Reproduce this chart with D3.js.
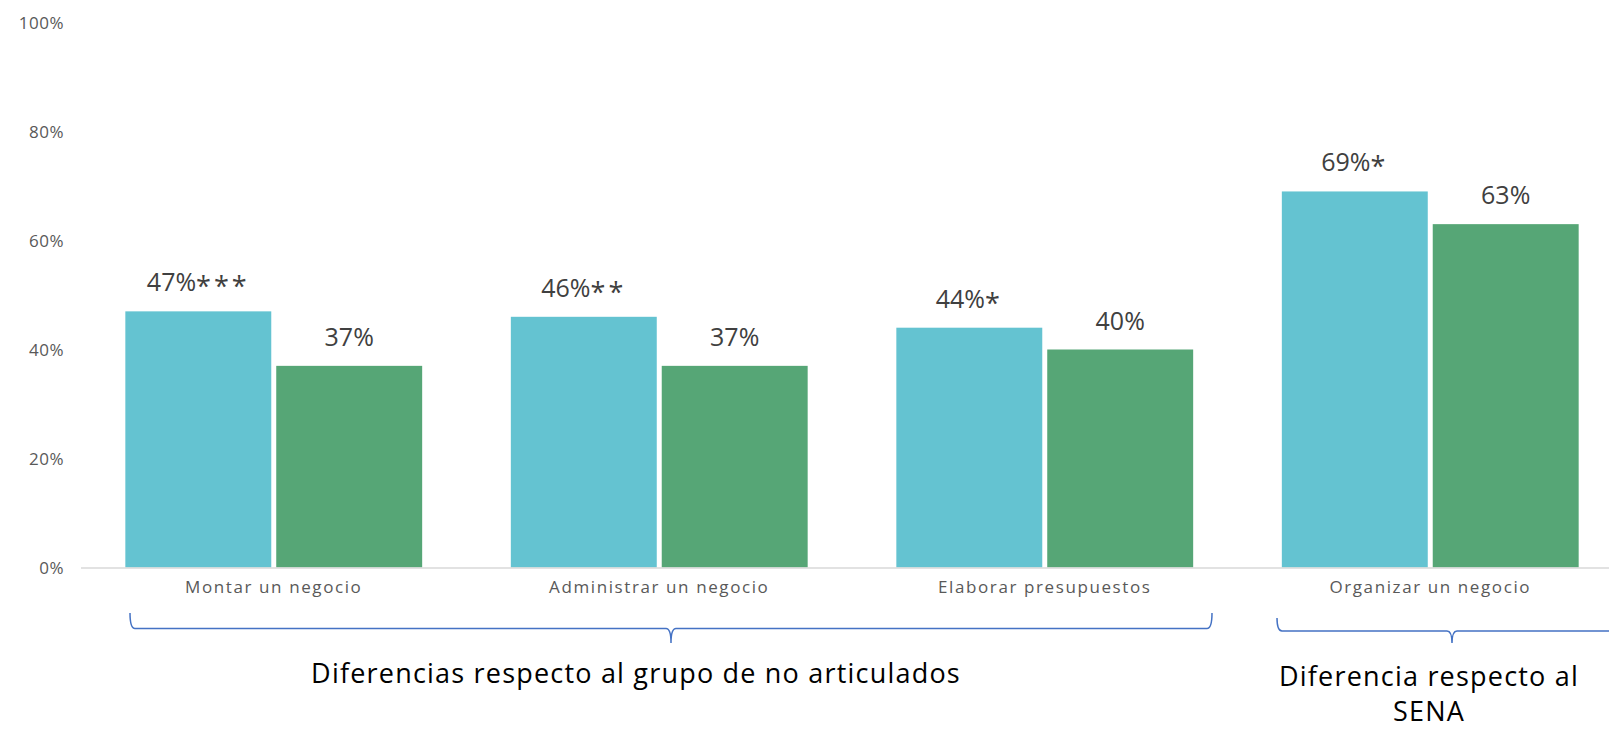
<!DOCTYPE html>
<html>
<head>
<meta charset="utf-8">
<script src="https://cdn.jsdelivr.net/npm/d3@7"></script>
<style>
  html, body { margin: 0; padding: 0; background: #fff; }
  svg { display: block; }
</style>
</head>
<body>
<svg id="chart" width="1609" height="729"></svg>
<script>
const categories = ["Montar un negocio", "Administrar un negocio", "Elaborar presupuestos", "Organizar un negocio"];
const seriesKeys = ["articulados", "comparacion"];
const seriesA = [0.47, 0.46, 0.44, 0.69];
const seriesB = [0.37, 0.37, 0.40, 0.63];
const labelsA = ["47%", "46%", "44%", "69%"];
const starsA = ["***", "**", "*", "*"];
const labelsB = ["37%", "37%", "40%", "63%"];
const yTicks = [0, 0.2, 0.4, 0.6, 0.8, 1.0];
const groupLabels = ["Diferencias respecto al grupo de no articulados", "Diferencia respecto al", "SENA"];
const colors = ["#64C3D1", "#56A676"];

const svg = d3.select("#chart");
const W = 1609, H = 729;
const FONT = "'Open Sans', 'Noto Sans', sans-serif";

const x = d3.scaleBand().domain(categories).range([81, 1623]).paddingInner(0.23).paddingOuter(0.115);
const xi = d3.scaleBand().domain(seriesKeys).range([0, x.bandwidth()]).paddingInner(0.033);
const y = d3.scaleLinear().domain([0, 1]).range([567.5, 22.5]);

const data = categories.map((c, i) => ({
  cat: c,
  vals: [
    { key: seriesKeys[0], v: seriesA[i], label: labelsA[i], stars: starsA[i], color: colors[0] },
    { key: seriesKeys[1], v: seriesB[i], label: labelsB[i], stars: "", color: colors[1] }
  ]
}));

// Y axis labels (no line, no ticks)
const yAxis = d3.axisLeft(y).tickValues(yTicks).tickFormat(d3.format(".0%")).tickSize(0).tickPadding(0);
const ya = svg.append("g").attr("transform", "translate(64,0)").call(yAxis);
ya.select(".domain").remove();
ya.selectAll("text")
  .attr("fill", "#595959")
  .style("font-family", FONT)
  .style("font-size", "17px")
  .style("letter-spacing", "0.5px")
  .attr("dy", "0.35em");

// Bars
const groups = svg.append("g").selectAll("g").data(data).join("g")
  .attr("transform", d => `translate(${x(d.cat)},0)`);

groups.selectAll("rect").data(d => d.vals).join("rect")
  .attr("x", d => xi(d.key))
  .attr("width", xi.bandwidth())
  .attr("y", d => y(d.v))
  .attr("height", d => y(0) - y(d.v))
  .attr("fill", d => d.color);

const vt = groups.selectAll("text.val").data(d => d.vals).join("text")
  .attr("class", "val")
  .attr("x", d => xi(d.key) + xi.bandwidth() / 2)
  .attr("y", d => y(d.v) - 20)
  .attr("text-anchor", "middle")
  .attr("fill", "#404040")
  .style("font-family", FONT)
  .style("font-size", "25px");
vt.append("tspan").text(d => d.label);
vt.append("tspan")
  .style("font-size", "27px")
  .style("letter-spacing", "3px")
  .attr("dy", "5")
  .text(d => d.stars);

// X axis line
svg.append("line")
  .attr("x1", 81).attr("x2", W)
  .attr("y1", y(0) + 0.5).attr("y2", y(0) + 0.5)
  .attr("stroke", "#D9D9D9").attr("stroke-width", 1.5);

// Category labels
const xAxis = d3.axisBottom(x).tickSize(0).tickPadding(0);
const xa = svg.append("g").attr("transform", `translate(0,${y(0)})`).call(xAxis);
xa.select(".domain").remove();
xa.selectAll("text")
  .attr("y", 20)
  .attr("dy", "0.35em")
  .attr("fill", "#595959")
  .style("font-family", FONT)
  .style("font-size", "17px")
  .style("letter-spacing", "1.6px");

// Braces
function brace(x0, x1, xm, yTop, yH, yTip) {
  const r = 5;
  return `M${x0},${yTop} Q${x0},${yH} ${x0 + r},${yH} L${xm - r},${yH} Q${xm},${yH} ${xm},${yTip} Q${xm},${yH} ${xm + r},${yH} L${x1 - r},${yH} Q${x1},${yH} ${x1},${yTop}`;
}
const braceColor = "#4472C4";
svg.append("path")
  .attr("d", brace(130, 1212, 671, 613, 628.5, 643))
  .attr("fill", "none").attr("stroke", braceColor).attr("stroke-width", 1.5);
svg.append("path")
  .attr("d", brace(1277, 1627, 1452, 618, 631, 643))
  .attr("fill", "none").attr("stroke", braceColor).attr("stroke-width", 1.5);

// Group labels
function groupText(t, cx, by) {
  svg.append("text").attr("x", cx).attr("y", by).attr("text-anchor", "middle")
    .attr("fill", "#000").style("font-family", FONT).style("font-size", "27px")
    .style("letter-spacing", "1.2px")
    .text(t);
}
groupText(groupLabels[0], 636, 683);
groupText(groupLabels[1], 1429, 686);
groupText(groupLabels[2], 1429, 721);
</script>
</body>
</html>
